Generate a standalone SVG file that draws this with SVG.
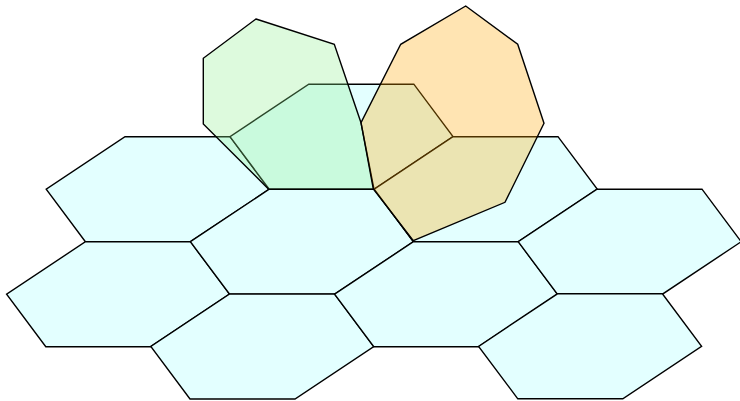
<svg xmlns="http://www.w3.org/2000/svg" xmlns:xlink="http://www.w3.org/1999/xlink" width="740" height="401" viewBox="0 0 740 401">
  <style>
    .hex { fill: #e3ffff; stroke: #000; stroke-width: 1.4; stroke-linejoin: miter; }
    .green { fill: #90ee90; fill-opacity: 0.3; stroke: #000; stroke-width: 1.4; }
    .orange { fill: #ffa500; fill-opacity: 0.3; stroke: #000; stroke-width: 1.4; }
  </style>
  <defs>
    <path id="hexShape" d="M0,0 h105 l39.2,52.5 l-78.8,52.5 h-105 l-39.2,-52.5 z"/>
  </defs>
  <rect width="740" height="401" fill="#fff"/>
  <g id="hexagons">
    <g id="hexA"><use xlink:href="#hexShape" href="#hexShape" class="hex" transform="translate(125,136.7)"/></g>
    <g id="hexB"><use xlink:href="#hexShape" href="#hexShape" class="hex" transform="translate(85.4,241.7)"/></g>
    <g id="hexE"><use xlink:href="#hexShape" href="#hexShape" class="hex" transform="translate(269.2,189.2)"/></g>
    <g id="hexD"><use xlink:href="#hexShape" href="#hexShape" class="hex" transform="translate(229.6,294)"/></g>
    <g id="hexF"><use xlink:href="#hexShape" href="#hexShape" class="hex" transform="translate(308.8,84.2)"/></g>
    <g id="hexG"><use xlink:href="#hexShape" href="#hexShape" class="hex" transform="translate(453,136.7)"/></g>
    <g id="hexH"><use xlink:href="#hexShape" href="#hexShape" class="hex" transform="translate(413.4,241.7)"/></g>
    <g id="hexJ"><use xlink:href="#hexShape" href="#hexShape" class="hex" transform="translate(597,189.2)"/></g>
    <g id="hexI"><use xlink:href="#hexShape" href="#hexShape" class="hex" transform="translate(557.4,293.8)"/></g>
  </g>
  <g id="greenHeptagon">
    <polygon class="green" points="256,19 334.3,44.3 361,122.7 374,189.2 268.7,189.2 203.3,124 203.3,58.3"/>
  </g>
  <g id="orangeOctagon">
    <polygon class="orange" points="465.7,6 517.7,44.3 544,123.3 505,202.3 413.3,240.7 373.3,189 361,122.7 400.7,44.3"/>
  </g>
  <g id="connectors"/>
</svg>
